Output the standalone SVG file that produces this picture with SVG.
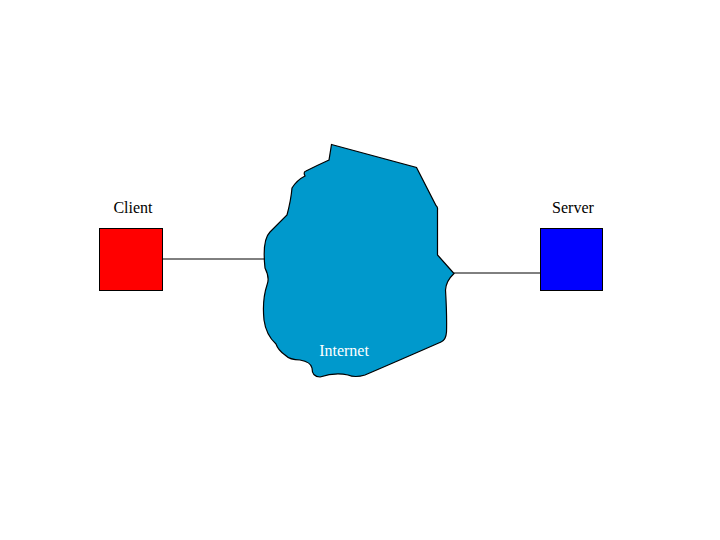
<svg xmlns="http://www.w3.org/2000/svg" width="720" height="540" viewBox="0 0 720 540">
<style>
.lbl{font-family:"Liberation Serif","Times New Roman",serif;font-size:16px;text-anchor:middle}
.edge{stroke:#000;stroke-width:1;fill:none}
.box{stroke:#000;stroke-width:1}
</style>
<rect width="720" height="540" fill="#fff"/>
<g id="connectors">
<line class="edge" x1="162" y1="259" x2="266" y2="259"/>
<line class="edge" x1="454" y1="273" x2="540" y2="273"/>
</g>
<g id="internet">
<path d="M331.5,144.5 L416.5,167.5 L436,205.5 Q438,207 437.5,210 L437.5,255 L454,273.5 Q446,281 445.5,290 Q447,315 446.5,332 Q446,340 441,342 Q400,360 365,375 Q355,378 348,375 Q335,372 320,377 Q312,377 312,368 Q311,362 300,360 Q290,360 285,355 Q278,350 276,344 Q266,335 264,320 Q262,300 267,285 Q270,278 265,268 Q262,240 270,232 Q280,222 287,215 Q291,200 292,188 Q297,180 305,176 Q303,172 306,171 Q318,165 329,160 Z" fill="#0099cc" stroke="#000" stroke-width="1.2"/>
<text class="lbl" x="344" y="356" fill="#fff">Internet</text>
</g>
<g id="client">
<rect class="box" x="99.5" y="228.5" width="63" height="62" fill="#ff0000"/>
<text class="lbl" x="133" y="213">Client</text>
</g>
<g id="server">
<rect class="box" x="540.5" y="228.5" width="62" height="62" fill="#0000ff"/>
<text class="lbl" x="573" y="213">Server</text>
</g>
</svg>
